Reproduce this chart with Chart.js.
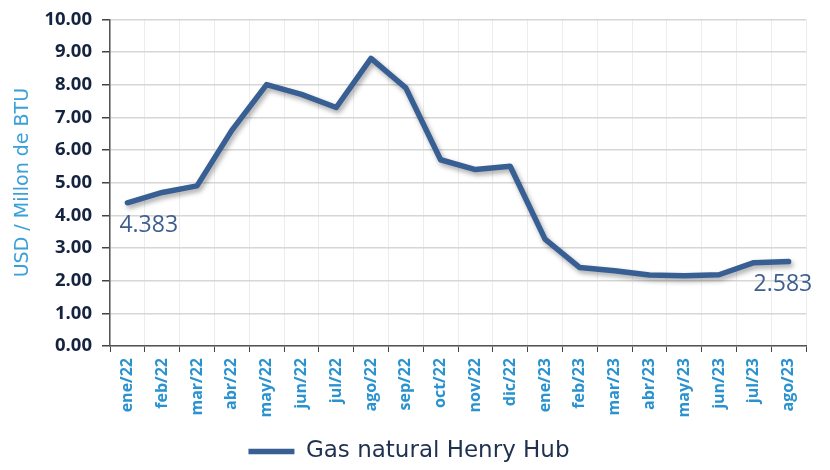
<!DOCTYPE html>
<html>
<head>
<meta charset="utf-8">
<script src="https://cdn.jsdelivr.net/npm/chart.js@4.4.0/dist/chart.umd.min.js"></script>
<style>
  body { margin: 0; background: #fff; }
  #wrap { width: 830px; height: 470px; }
</style>
</head>
<body>
<div id="wrap"><canvas id="gas" width="830" height="470"></canvas></div>
<script>
const months = ['ene/22', 'feb/22', 'mar/22', 'abr/22', 'may/22', 'jun/22', 'jul/22', 'ago/22', 'sep/22', 'oct/22',
  'nov/22', 'dic/22', 'ene/23', 'feb/23', 'mar/23', 'abr/23', 'may/23', 'jun/23', 'jul/23', 'ago/23'];
const henryHub = [4.383, 4.70, 4.90, 6.60, 8.00, 7.70, 7.30, 8.80, 7.90, 5.70,
  5.40, 5.50, 3.27, 2.40, 2.30, 2.17, 2.15, 2.18, 2.55, 2.583];
// only first and last points carry a value label
const labelledPoints = [0, 19];

const fontFam = "'Open Sans', 'Noto Sans', sans-serif";
const wideFam = "'DejaVu Sans', 'Open Sans', sans-serif";

// soft drop shadow under the line
const shadowPlugin = {
  id: 'shadow',
  beforeDatasetsDraw(chart) {
    const ctx = chart.ctx;
    ctx.save();
    ctx.shadowColor = 'rgba(0,0,0,0.35)';
    ctx.shadowBlur = 5;
    ctx.shadowOffsetX = 2;
    ctx.shadowOffsetY = 3;
  },
  afterDatasetsDraw(chart) {
    chart.ctx.restore();
  }
};

const valueLabels = {
  id: 'valueLabels',
  afterDatasetsDraw(chart) {
    const ctx = chart.ctx;
    const meta = chart.getDatasetMeta(0);
    ctx.save();
    ctx.font = '23px ' + fontFam;
    ctx.fillStyle = '#3f5f8f';
    ctx.textBaseline = 'top';
    ctx.textAlign = 'left';
    labelledPoints.forEach(i => {
      const pt = meta.data[i];
      const dx = i === 0 ? -8 : -35;
      ctx.fillText(henryHub[i].toFixed(3), pt.x + dx, pt.y + 11);
    });
    ctx.restore();
  }
};

const createChart = () => {
  const ctx = document.querySelector('#gas');
  new Chart(ctx, {
    type: 'line',
    data: {
      labels: months,
      datasets: [{
        label: 'Gas natural Henry Hub',
        data: henryHub,
        borderColor: '#385f93',
        backgroundColor: '#385f93',
        borderWidth: 5.5,
        borderCapStyle: 'round',
        borderJoinStyle: 'round',
        pointRadius: 0,
        tension: 0
      }]
    },
    options: {
      responsive: false,
      animation: false,
      layout: { padding: { top: -4, right: 24, left: 12, bottom: -3 } },
      plugins: {
        tooltip: { enabled: false },
        legend: {
          position: 'bottom',
          labels: {
            usePointStyle: true,
            pointStyle: 'line',
            pointStyleWidth: 46,
            boxHeight: 6,
            padding: 0,
            color: '#1f3150',
            font: { family: wideFam, size: 23 }
          }
        }
      },
      scales: {
        x: {
          offset: true,
          grid: {
            offset: true,
            color: '#ececec',
            tickColor: '#444',
            tickLength: 6,
            lineWidth: 1
          },
          border: { color: '#555', width: 1.5 },
          ticks: {
            color: '#2a93cf',
            maxRotation: 90,
            minRotation: 90,
            padding: 6,
            font: { family: fontFam, size: 16, weight: 'bold' }
          },
          afterFit(scale) { scale.height = 94; }
        },
        y: {
          min: 0,
          max: 10,
          grid: {
            color: '#d6d6d6',
            tickColor: '#444',
            tickLength: 8,
            lineWidth: 1.5
          },
          border: { color: '#555', width: 1.5 },
          ticks: {
            stepSize: 1,
            color: '#14233f',
            padding: 10,
            font: { family: fontFam, size: 18.5, weight: 'bold', lineHeight: 1 },
            callback: v => Number(v).toFixed(2)
          },
          title: {
            display: true,
            text: 'USD / Millon de BTU',
            color: '#3aa0d8',
            padding: 0,
            font: { family: wideFam, size: 19 }
          },
          afterFit(scale) { scale.width = 98; }
        }
      }
    },
    plugins: [shadowPlugin, valueLabels]
  });
};

createChart();
</script>
</body>
</html>
